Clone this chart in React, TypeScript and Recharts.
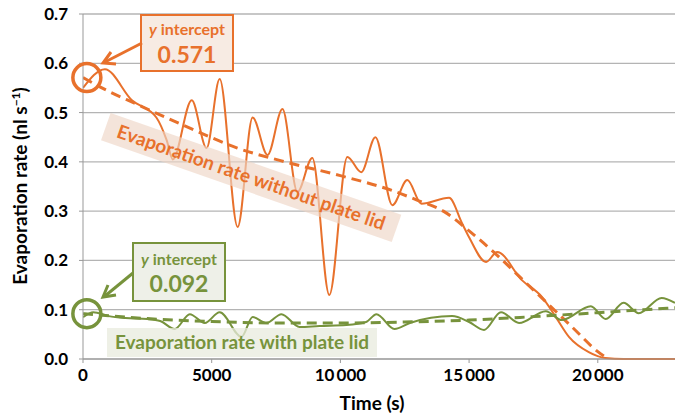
import { LineChart, Line, XAxis, YAxis, CartesianGrid, ReferenceDot } from 'recharts'

const ORANGE = '#E8712C'
const GREEN = '#77933C'

// x axis ticks (time, s)
const xTicks = [0, 5000, 10000, 15000, 20000]
const xTickLabels = ['0', '5000', '10\u2009000', '15\u2009000', '20\u2009000']
const yTicks = [0, 0.1, 0.2, 0.3, 0.4, 0.5, 0.6, 0.7]

// evaporation rate without plate lid (measured)
const openTimes = [0, 850, 1900, 2850, 3250, 3490, 4225, 4800, 5310, 6010, 6590, 7170, 7750, 8330, 8910, 9570, 10270, 10810, 11360, 12020, 12600, 13150, 14220, 14730, 15000, 15660, 16090, 17050, 17830, 18370, 18880, 19650, 20300, 21000, 22000, 23000]
const openRates = [0.55, 0.588, 0.525, 0.49, 0.444, 0.405, 0.525, 0.428, 0.568, 0.268, 0.49, 0.414, 0.507, 0.339, 0.408, 0.13, 0.41, 0.379, 0.45, 0.312, 0.363, 0.315, 0.327, 0.275, 0.247, 0.197, 0.217, 0.16, 0.126, 0.085, 0.045, 0.014, 0.002, 0, 0, 0]

// trend without lid
const openFitTimes = [0, 1000, 2000, 4000, 6000, 8000, 10000, 12000, 13000, 14000, 15000, 16000, 17000, 18000, 19000, 20000, 20400]
const openFitRates = [0.571, 0.543, 0.519, 0.472, 0.428, 0.398, 0.372, 0.342, 0.322, 0.3, 0.26, 0.215, 0.165, 0.115, 0.065, 0.015, 0]

// evaporation rate with plate lid (measured)
const lidTimes = [0, 400, 1000, 1650, 2500, 3000, 3570, 4150, 4730, 5310, 6160, 6590, 7130, 7710, 8410, 9190, 10230, 11000, 11400, 12100, 12700, 14340, 15000, 15580, 16240, 16940, 17980, 18600, 19730, 20310, 21000, 21590, 22480, 23000]
const lidRates = [0.085, 0.095, 0.087, 0.083, 0.081, 0.077, 0.061, 0.091, 0.073, 0.095, 0.045, 0.085, 0.073, 0.091, 0.065, 0.067, 0.069, 0.075, 0.091, 0.061, 0.073, 0.087, 0.075, 0.059, 0.095, 0.073, 0.097, 0.079, 0.107, 0.081, 0.114, 0.093, 0.124, 0.114]

// trend with lid
const lidFitTimes = [0, 2500, 5000, 7500, 10000, 12500, 15000, 17500, 20000, 23000]
const lidFitRates = [0.092, 0.082, 0.076, 0.073, 0.073, 0.075, 0.079, 0.086, 0.094, 0.104]

const pairs = (ts: number[], vs: number[]) => ts.map((t, i) => ({ t, v: vs[i] }))

const tickStyle = { fill: '#000', fontSize: 17, fontWeight: 700, fontFamily: 'Lato' }

export default function App() {
  return (
    <div style={{ position: 'absolute', left: 0, top: 0, width: 675, height: 413, fontFamily: 'Lato', background: '#fff' }}>
      <LineChart width={675} height={413} margin={{ top: 14, right: 0, bottom: 14, left: 0 }}>
        <CartesianGrid vertical={false} stroke="#b4b4b4" strokeWidth={1.3} />
        <XAxis
          type="number"
          dataKey="t"
          domain={[0, 23000]}
          ticks={xTicks}
          tickFormatter={(v: number) => xTickLabels[xTicks.indexOf(v)]}
          allowDataOverflow
          height={40}
          tick={tickStyle}
          tickSize={4}
          tickMargin={6}
          stroke="#999"
        />
        <YAxis
          type="number"
          domain={[0, 0.7]}
          ticks={yTicks}
          tickFormatter={(v: number) => v.toFixed(1)}
          width={83}
          tick={tickStyle}
          tickSize={4}
          tickMargin={11}
          stroke="#999"
        />
        <Line data={pairs(openTimes, openRates)} dataKey="v" type="monotone" stroke={ORANGE} strokeWidth={2} dot={false} isAnimationActive={false} />
        <Line data={pairs(openFitTimes, openFitRates)} dataKey="v" type="monotone" stroke={ORANGE} strokeWidth={3} strokeDasharray="10 6" dot={false} isAnimationActive={false} />
        <Line data={pairs(lidTimes, lidRates)} dataKey="v" type="monotone" stroke={GREEN} strokeWidth={2} dot={false} isAnimationActive={false} />
        <Line data={pairs(lidFitTimes, lidFitRates)} dataKey="v" type="monotone" stroke={GREEN} strokeWidth={3} strokeDasharray="10 6" dot={false} isAnimationActive={false} />
        <ReferenceDot x={150} y={0.571} r={14} fill="none" stroke={ORANGE} strokeWidth={3.5} ifOverflow="visible" />
        <ReferenceDot x={150} y={0.092} r={14} fill="none" stroke={GREEN} strokeWidth={3.5} ifOverflow="visible" />
      </LineChart>
      <svg width={675} height={413} style={{ position: 'absolute', left: 0, top: 0, pointerEvents: 'none' }}>
        {/* axis titles */}
        <text transform="translate(27,186) rotate(-90)" textAnchor="middle" fontSize={19} fontWeight={700} fontFamily="Lato" fill="#000">
          Evaporation rate (nl s<tspan dy={-7} fontSize={12}>−1</tspan><tspan dy={7}>)</tspan>
        </text>
        <text x={372} y={410} textAnchor="middle" fontSize={19} fontWeight={700} fontFamily="Lato" fill="#000">Time (s)</text>

        {/* label bands */}
        <g transform="translate(251,178) rotate(19.3)">
          <rect x={-154} y={-15} width={308} height={29} fill="rgba(238,214,198,0.65)" />
          <text x={0} y={6} textAnchor="middle" fontSize={19} fontWeight={700} fontFamily="Lato" fill={ORANGE}>Evaporation rate without plate lid</text>
        </g>
        <rect x={107} y={328} width={270} height={29} fill="rgba(232,235,222,0.75)" />
        <text x={242} y={349} textAnchor="middle" fontSize={19} fontWeight={700} fontFamily="Lato" fill={GREEN}>Evaporation rate with plate lid</text>

        {/* y intercept callouts */}
        <rect x={141} y={15} width={92} height={56} fill="#F7EBE3" stroke={ORANGE} strokeWidth={2} />
        <text x={187} y={35} textAnchor="middle" fontSize={16} fontWeight={700} fontFamily="Lato" fill={ORANGE}><tspan fontStyle="italic">y</tspan> intercept</text>
        <text x={187} y={63} textAnchor="middle" fontSize={23} fontWeight={700} fontFamily="Lato" fill={ORANGE}>0.571</text>
        <line x1={142} y1={43} x2={105} y2={62} stroke={ORANGE} strokeWidth={3} />
        <polyline points="111,52 103,63 116,64" fill="none" stroke={ORANGE} strokeWidth={3} />

        <rect x={133} y={243} width={92} height={58} fill="#EEF0E8" stroke={GREEN} strokeWidth={2} />
        <text x={179} y={265} textAnchor="middle" fontSize={16} fontWeight={700} fontFamily="Lato" fill={GREEN}><tspan fontStyle="italic">y</tspan> intercept</text>
        <text x={179} y={292} textAnchor="middle" fontSize={23} fontWeight={700} fontFamily="Lato" fill={GREEN}>0.092</text>
        <line x1={133} y1={273} x2={105} y2={296} stroke={GREEN} strokeWidth={3} />
        <polyline points="108,285 103,297 116,295" fill="none" stroke={GREEN} strokeWidth={3} />
      </svg>
    </div>
  )
}
